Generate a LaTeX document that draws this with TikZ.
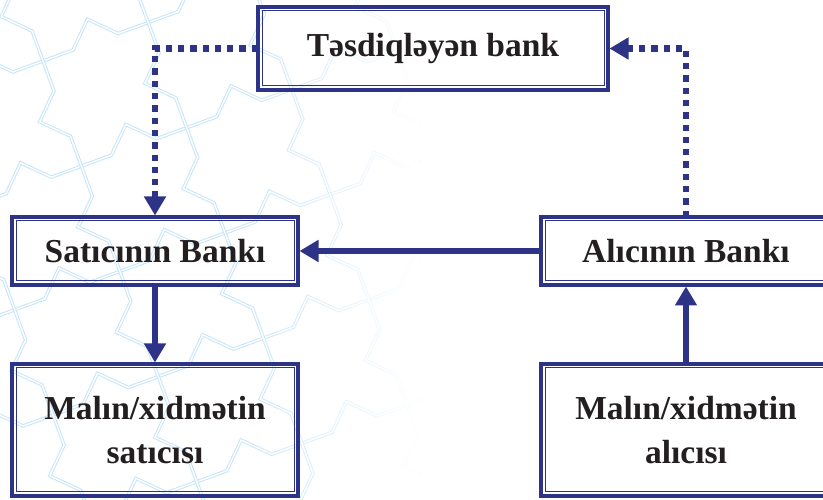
\documentclass[tikz,border=0pt]{standalone}
\usepackage{fontspec}
\setmainfont{Liberation Serif}
\usetikzlibrary{arrows.meta,fadings}
\definecolor{flowblue}{RGB}{45,52,135}
\definecolor{inkblack}{RGB}{35,31,32}
\definecolor{latticeblue}{RGB}{198,229,250}

\begin{document}
\begin{tikzpicture}[x=1pt,y=1pt,
  box/.style={draw=flowblue, line width=4.5pt, outer sep=0pt, inner sep=0pt,
    minimum width=286pt, text=inkblack, align=center,
    font=\fontsize{33.5}{43.5}\selectfont\bfseries},
  innerframe/.style={draw=flowblue, line width=1pt},
  flow/.style={draw=flowblue, line width=6.5pt, shorten >=1.5pt,
    -{Triangle[width=21pt,length=19pt]}},
  dotflow/.style={draw=flowblue, line width=6.5pt, shorten >=1.5pt,
    dash pattern=on 6.3pt off 6pt, -{Triangle[width=21pt,length=19pt]}},
  lattice/.style={draw=latticeblue, line width=1pt, double=white,
    double distance=1.4pt, line join=miter}
]
\useasboundingbox (0,0) rectangle (823,500);
\clip (0,0) rectangle (823,500);

% star lattice ornament in the background
\begin{scope}
  \clip (0,0) rectangle (420,500);
  \begin{scope}[shift={(43,439)}, rotate=20.07]
    \foreach \j in {-6,...,6}{
      \draw[lattice] (-6*112-32,\j*112)
        \foreach \i in {-6,...,6}{ -- (\i*112+32,\j*112) -- (\i*112+56,\j*112+24) -- (\i*112+80,\j*112) };
      \draw[lattice] (\j*112,6*112+32)
        \foreach \i in {6,5,...,-6}{ -- (\j*112,\i*112-32) -- (\j*112-24,\i*112-56) -- (\j*112,\i*112-80) };
    }
  \end{scope}
  \fill[white, path fading=west] (240,0) rectangle (420,500);
\end{scope}

% boxes
\node[box, minimum width=350pt, minimum height=83pt] (approve) at (433,451.5) {Təsdiqləyən bank};
\node[box, minimum height=68pt] (sellerbank) at (155,249) {Satıcının Bankı};
\node[box, minimum width=290pt, minimum height=68pt] (buyerbank) at (686,249) {Alıcının Bankı};
\node[box, minimum height=132pt] (seller) at (155,70) {Malın/xidmətin\\satıcısı};
\node[box, minimum width=290pt, minimum height=132pt] (buyer) at (686,70) {Malın/xidmətin\\alıcısı};

\foreach \n in {approve,sellerbank,buyerbank,seller,buyer}
  \draw[innerframe] ([shift={(4,4)}]\n.south west) rectangle ([shift={(-4,-4)}]\n.north east);

% connectors
\draw[dotflow] (approve.west) -| (sellerbank.north);
\draw[dotflow] (buyerbank.north) |- (approve.east);
\draw[flow] (buyerbank.west) -- (sellerbank.east);
\draw[flow] (sellerbank.south) -- (seller.north);
\draw[flow] (buyer.north) -- (buyerbank.south);
\end{tikzpicture}
\end{document}
